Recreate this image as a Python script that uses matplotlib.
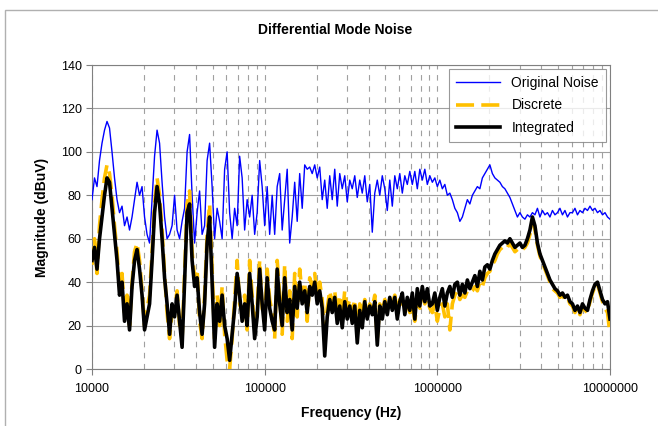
import numpy as np
import matplotlib.pyplot as plt
from matplotlib.patches import Rectangle
from matplotlib.ticker import FixedLocator, FuncFormatter

plt.rcParams['font.family'] = ['Liberation Sans', 'DejaVu Sans']

# readings in dBuV, 8 per row, sweep is log spaced 10 kHz .. 10 MHz
original = [
    78, 88, 84, 96, 104, 110, 114, 111,
    100, 88, 78, 72, 75, 66, 70, 64,
    70, 78, 86, 80, 84, 70, 62, 58,
    78, 98, 110, 104, 86, 70, 60, 62,
    66, 80, 64, 60, 68, 74, 100, 108,
    80, 58, 72, 82, 62, 66, 96, 104,
    84, 60, 74, 68, 60, 92, 100, 72,
    60, 74, 66, 98, 88, 64, 78, 70,
    80, 62, 72, 96, 84, 66, 84, 62,
    80, 62, 84, 90, 64, 78, 92, 58,
    70, 86, 68, 90, 74, 94, 92, 93,
    90, 94, 88, 93, 78, 87, 74, 89,
    78, 92, 75, 90, 83, 89, 77, 87,
    83, 89, 79, 87, 81, 89, 77, 85,
    63, 81, 87, 80, 89, 83, 73, 87,
    75, 89, 83, 90, 81, 89, 85, 91,
    85, 91, 83, 92, 87, 92, 85, 89,
    86, 88, 84, 87, 83, 85, 80, 81,
    78, 74, 72, 68, 70, 74, 78, 76,
    80, 82, 84, 83, 88, 90, 92, 94,
    90, 88, 87, 86, 84, 83, 81, 79,
    76, 73, 70, 72, 70, 69, 71, 70,
    72, 71, 74, 70, 73, 71, 72, 70,
    73, 71, 72, 74, 71, 73, 70, 72,
    72, 74, 71, 73, 72, 74, 73, 75,
    73, 74, 72, 73, 71, 72, 70, 69,
]

discrete = [
    48, 60, 44, 66, 78, 88, 94, 90,
    80, 66, 54, 38, 44, 26, 34, 20,
    40, 54, 58, 50, 36, 20, 28, 34,
    54, 76, 88, 80, 64, 44, 26, 14,
    26, 28, 36, 20, 14, 44, 76, 82,
    54, 42, 46, 22, 14, 34, 62, 76,
    46, 14, 34, 20, 38, 16, 4, 0,
    14, 32, 50, 30, 26, 34, 18, 50,
    34, 18, 28, 50, 28, 22, 46, 32,
    26, 14, 50, 34, 16, 48, 22, 36,
    14, 44, 24, 46, 34, 40, 22, 42,
    38, 44, 34, 40, 32, 12, 28, 36,
    30, 36, 24, 34, 24, 36, 28, 32,
    26, 32, 16, 30, 24, 32, 26, 30,
    28, 34, 14, 30, 26, 32, 28, 30,
    30, 34, 26, 32, 30, 28, 30, 26,
    30, 22, 32, 28, 34, 30, 32, 28,
    26, 30, 22, 28, 30, 24, 30, 18,
    30, 34, 36, 32, 34, 33, 36, 35,
    36, 38, 36, 40, 38, 42, 44, 45,
    48, 50, 53, 55, 56, 57, 56, 58,
    56, 54, 55, 56, 55, 56, 58, 62,
    68, 64, 57, 52, 49, 46, 43, 40,
    37, 36, 35, 33, 34, 32, 33, 30,
    29, 26, 28, 25, 29, 27, 26, 31,
    35, 38, 39, 35, 31, 28, 26, 16,
]

integrated = [
    50, 56, 46, 60, 70, 80, 88, 86,
    74, 62, 50, 34, 40, 22, 30, 18,
    38, 50, 55, 46, 34, 18, 24, 30,
    50, 72, 84, 76, 60, 42, 30, 16,
    30, 24, 34, 22, 10, 40, 72, 76,
    50, 38, 42, 26, 16, 30, 58, 70,
    40, 10, 30, 22, 34, 20, 14, 4,
    16, 28, 44, 34, 22, 30, 20, 44,
    30, 14, 24, 46, 30, 18, 42, 28,
    22, 18, 46, 30, 20, 42, 26, 32,
    18, 38, 28, 40, 30, 36, 26, 38,
    34, 40, 30, 36, 28, 6, 24, 32,
    26, 33, 21, 29, 19, 31, 23, 29,
    21, 29, 12, 27, 19, 31, 23, 29,
    25, 31, 11, 29, 23, 31, 25, 33,
    27, 33, 23, 31, 35, 25, 33, 27,
    35, 23, 37, 29, 38, 31, 37, 29,
    30, 35, 27, 33, 37, 29, 35, 38,
    33, 39, 40, 34, 39, 35, 41, 37,
    40, 43, 38, 45, 41, 47, 48, 46,
    50, 53, 55, 57, 58, 59, 58, 60,
    58, 56, 57, 58, 56, 57, 60, 64,
    70, 66, 58, 53, 50, 47, 44, 41,
    39, 37, 36, 34, 35, 33, 34, 31,
    30, 27, 29, 26, 30, 28, 27, 32,
    36, 39, 40, 36, 32, 30, 31, 23,
]

x_ticks = [1e4, 1e5, 1e6, 1e7]
y_ticks = [0, 20, 40, 60, 80, 100, 120, 140]

f_orig = np.geomspace(1e4, 1e7, len(original))
f_disc = np.geomspace(1e4, 1e7, len(discrete))
f_int = np.geomspace(1e4, 1e7, len(integrated))

fig = plt.figure(figsize=(6.58, 4.26), dpi=100)
ax = fig.add_axes([92 / 658, 57 / 426, 518 / 658, 304 / 426])

# outer chart border
fig.patches.append(Rectangle((5 / 658, -0.1), 1.0, (416 / 426) + 0.1,
                             transform=fig.transFigure, fill=False,
                             edgecolor='#b0b0b0', linewidth=1.0))

ax.plot(f_orig, original, color='#0000ff', lw=1.0, label='Original Noise', zorder=3)
ax.plot(f_disc, discrete, color='#ffc000', lw=2.6, ls=(0, (5, 2)),
        label='Discrete', zorder=4)
ax.plot(f_int, integrated, color='black', lw=2.6, label='Integrated', zorder=5)

ax.set_xscale('log')
ax.set_xlim(1e4, 1e7)
ax.set_ylim(0, 140)
ax.xaxis.set_major_locator(FixedLocator(x_ticks))
ax.xaxis.set_major_formatter(FuncFormatter(lambda v, p: '%d' % round(v)))
ax.xaxis.set_minor_locator(FixedLocator(
    [m * 10 ** e for e in range(4, 7) for m in range(2, 10)]))
ax.yaxis.set_major_locator(FixedLocator(y_ticks))

ax.grid(True, axis='y', which='major', color='#a0a0a0', lw=0.8, ls='-')
ax.grid(True, axis='x', which='both', color='#a0a0a0', lw=0.8, ls=(0, (5, 5)))
ax.set_axisbelow(True)

for s in ax.spines.values():
    s.set_color('#808080')
ax.tick_params(axis='both', which='major', labelsize=9, length=4, color='#808080')
ax.tick_params(axis='x', which='minor', length=0)
ax.tick_params(axis='x', pad=6)

ax.set_xlabel('Frequency (Hz)', fontsize=10, fontweight='bold', labelpad=8)
ax.set_ylabel('Magnitude (dBuV)', fontsize=10, fontweight='bold', labelpad=8)
fig.text(335 / 658, 1 - 30 / 426, 'Differential Mode Noise', ha='center',
         va='center', fontsize=10, fontweight='bold')

leg = ax.legend(loc='upper right', fontsize=10, frameon=True, fancybox=False,
                edgecolor='#808080', borderaxespad=0.3, handlelength=3.2,
                labelspacing=0.6, borderpad=0.5)
leg.get_frame().set_linewidth(0.8)

fig.savefig('out.png', dpi=100)
